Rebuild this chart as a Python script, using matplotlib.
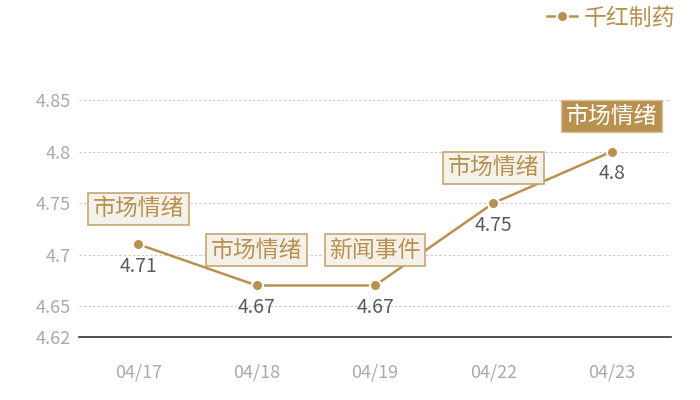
import matplotlib
matplotlib.use("Agg")
import matplotlib.pyplot as plt
from matplotlib.lines import Line2D

plt.rcParams['font.family'] = ['Noto Sans CJK SC', 'DejaVu Sans']

dates = ['04/17', '04/18', '04/19', '04/22', '04/23']
values = [4.71, 4.67, 4.67, 4.75, 4.80]
value_labels = ['4.71', '4.67', '4.67', '4.75', '4.8']
events = ['市场情绪', '市场情绪', '新闻事件', '市场情绪', '市场情绪']
highlight = [False, False, False, False, True]
series_name = '千红制药'
yticks = [4.62, 4.65, 4.70, 4.75, 4.80, 4.85]
ytick_labels = ['4.62', '4.65', '4.7', '4.75', '4.8', '4.85']

gold = '#b8914f'
box_fill = '#f4f0ea'
box_edge = '#c8a572'

fig = plt.figure(figsize=(7, 4), dpi=100)
ax = fig.add_axes([0.113, 0.1575, 0.8456, 0.5925])

x = list(range(len(dates)))
ax.plot(x, values, color=gold, lw=1.8, marker='o', markersize=8,
        markerfacecolor=gold, markeredgecolor='white', markeredgewidth=1.5,
        zorder=3)

ax.set_xlim(-0.5, len(dates) - 0.5)
ax.set_ylim(4.62, 4.85)
ax.set_yticks(yticks)
ax.set_yticklabels(ytick_labels)
ax.set_xticks(x)
ax.set_xticklabels(dates)
ax.tick_params(axis='y', length=0, pad=6, labelsize=13, labelcolor='#aaaaaa')
ax.tick_params(axis='x', length=0, pad=19, labelsize=13, labelcolor='#aaaaaa')

for s in ['top', 'right', 'left']:
    ax.spines[s].set_visible(False)
ax.spines['bottom'].set_color('#333333')
ax.spines['bottom'].set_linewidth(1.2)

for yv in yticks[1:]:
    ax.axhline(yv, color='#c8c8c8', lw=0.8, ls=(0, (2, 2)), zorder=1)

for xi, v, lab, ev, hl in zip(x, values, value_labels, events, highlight):
    ax.annotate(lab, xy=(xi, v), xytext=(0, -16), textcoords='offset points',
                ha='center', va='center', fontsize=14, color='#5a5a5a', zorder=4)
    if hl:
        bb = dict(boxstyle='square,pad=0.2', fc=gold, ec='#d8c29c', lw=1.0)
        tc = 'white'
    else:
        bb = dict(boxstyle='square,pad=0.2', fc=box_fill, ec=box_edge, lw=1.2)
        tc = gold
    ax.annotate(ev, xy=(xi, v), xytext=(0, 25.5), textcoords='offset points',
                ha='center', va='center', fontsize=16.5, color=tc, bbox=bb, zorder=5)

handle = Line2D([0], [0], color=gold, lw=1.8, marker='o', markersize=8,
                markerfacecolor=gold, markeredgecolor='white', markeredgewidth=1.5)
fig.legend([handle], [series_name], loc='center right',
           bbox_to_anchor=(0.978, 0.955), frameon=False, fontsize=16.5,
           labelcolor=gold, handlelength=1.3, handletextpad=0.3,
           borderaxespad=0)

fig.savefig('out.png', dpi=100, facecolor='white')
